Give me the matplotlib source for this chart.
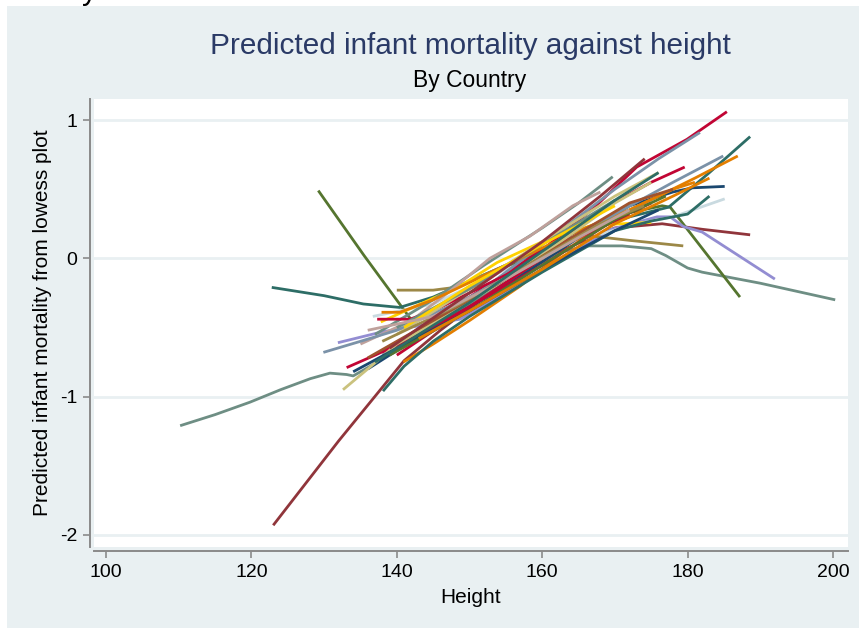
import matplotlib
matplotlib.use("Agg")
import matplotlib.pyplot as plt
from matplotlib.patches import Rectangle

# ---------------- data (height, predicted mortality) ----------------
# Stata s2color palette
navy = "#1A476F"; maroon = "#90353B"; forest = "#55752F"; dkorange = "#E37E00"
teal = "#6E8E84"; cranberry = "#C10534"; lavender = "#938DD2"; khaki = "#CAC27E"
sienna = "#A0522D"; emidblue = "#7B92A8"; emerald = "#2D6D66"; brown = "#9C8847"
erose = "#BFA19C"; gold = "#FFD200"; bluishgray = "#C9DAE0"

country_01 = [(110.2, -1.21), (115, -1.13), (119.8, -1.04), (124, -0.95), (128.1, -0.87),
              (130.8, -0.83), (133.1, -0.84), (134, -0.85), (137, -0.76), (140, -0.64),
              (150, -0.33), (158, -0.08), (163, 0.05), (166, 0.09), (171, 0.09), (175, 0.07),
              (177, 0.02), (180, -0.07), (182, -0.10), (190, -0.18), (200.3, -0.30)]
country_02 = [(123, -1.93), (132, -1.32), (141, -0.74), (146, -0.52), (150, -0.36),
              (160, 0.0), (170, 0.22), (176.5, 0.25), (182, 0.21), (188.6, 0.17)]
country_03 = [(129.2, 0.49), (135.5, 0.02), (142.2, -0.46), (146, -0.34), (155, -0.07),
              (165, 0.2), (172, 0.33), (176.5, 0.38), (177.6, 0.37), (187.2, -0.28)]
country_04 = [(122.8, -0.21), (130, -0.27), (135.4, -0.33), (140.4, -0.355), (145, -0.28),
              (155, -0.05), (165, 0.17), (172, 0.3), (177.4, 0.37), (183, 0.62), (188.6, 0.88)]
country_05 = [(131.9, -0.61), (138.1, -0.53), (144, -0.48), (148.7, -0.44), (156, -0.22),
              (163, 0.0), (169.5, 0.21), (175.8, 0.30), (177.6, 0.30), (179.4, 0.23),
              (182, 0.19), (192, -0.15)]
country_06 = [(136.7, -0.42), (145, -0.33), (155, -0.08), (165, 0.13), (173, 0.25),
              (178, 0.30), (185.1, 0.43)]
country_07 = [(136, -0.8), (145, -0.5), (155, -0.2), (165, 0.15), (172, 0.38), (178, 0.48),
              (180.7, 0.51), (185.1, 0.52)]
country_08 = [(140, -0.23), (145, -0.23), (148, -0.21), (152, -0.12), (158, 0.02),
              (163, 0.12), (167, 0.16), (172, 0.13), (179.4, 0.09)]
country_09 = [(137.8, -0.46), (142, -0.36), (148.7, -0.2), (153.8, -0.03), (160, 0.12),
              (167, 0.24), (175, 0.26)]
country_10 = [(138, -0.68), (150, -0.28), (160, 0.06), (167, 0.36), (173, 0.66),
              (179.9, 0.86), (185.4, 1.06)]
country_11 = [(138, -0.7), (150, -0.3), (160, 0.1), (170, 0.5), (176, 0.72), (181.7, 0.91)]
country_12 = [(137, -0.55), (145, -0.3), (152, -0.05), (160, 0.22), (165, 0.4), (169.7, 0.59)]
country_13 = [(135, -0.62), (142, -0.45), (147, -0.25), (152.8, 0.0), (158.3, 0.16),
              (164.2, 0.38), (168, 0.48)]
country_14 = [(140.9, -0.75), (145, -0.62), (150, -0.45), (157, -0.2), (163, 0.05),
              (170, 0.3), (176, 0.45), (181, 0.58), (186.9, 0.74)]
country_15 = [(137.9, -0.39), (140.4, -0.39), (145, -0.3), (155, -0.05), (165, 0.2),
              (172, 0.35), (178, 0.5), (181, 0.55)]
country_16 = [(137.3, -0.44), (141.8, -0.44), (145, -0.38), (155, -0.12), (165, 0.15),
              (172, 0.32)]
country_17 = [(133.1, -0.79), (137, -0.7), (142, -0.58), (150, -0.35), (160, -0.05),
              (170, 0.28), (175, 0.4)]
country_18 = [(140, -0.7), (150, -0.35), (160, 0.0), (168, 0.35), (175, 0.55), (179.6, 0.66)]
country_19 = [(132.6, -0.95), (136, -0.8), (140, -0.62), (148, -0.38), (155, -0.15),
              (162, 0.1), (170, 0.4), (175, 0.55)]
country_20 = [(138.1, -0.96), (141, -0.78), (145, -0.6), (150, -0.42), (160, -0.1),
              (170, 0.2), (175, 0.27), (180, 0.32), (183, 0.45)]
country_21 = [(129.9, -0.68), (135, -0.6), (140, -0.52), (150, -0.28), (160, 0.0),
              (170, 0.32), (178, 0.55), (184.9, 0.74)]
country_22 = [(140, -0.55), (150, -0.22), (160, 0.12), (170, 0.45), (176, 0.62)]
country_23 = [(136, -0.72), (145, -0.45), (155, -0.15), (165, 0.18), (172, 0.4), (178, 0.5)]
country_24 = [(134, -0.82), (140, -0.65), (150, -0.38), (160, -0.08), (170, 0.2), (176, 0.35)]
country_25 = [(139, -0.7), (150, -0.38), (160, -0.05), (170, 0.28), (177, 0.45)]
country_26 = [(140, -0.5), (150, -0.22), (160, 0.1), (170, 0.42)]
country_27 = [(141, -0.5), (150, -0.2), (160, 0.1), (170, 0.38)]
country_28 = [(138, -0.6), (148, -0.35), (158, -0.05), (168, 0.25), (174, 0.38)]
country_29 = [(136, -0.52), (145, -0.42), (155, -0.15), (165, 0.15), (172, 0.35)]
country_30 = [(137, -0.75), (150, -0.32), (160, 0.05), (170, 0.42), (176, 0.62)]
country_31 = [(139, -0.65), (150, -0.25), (160, 0.12), (168, 0.45), (174.1, 0.72)]
country_32 = [(143, -0.58), (150, -0.38), (160, -0.08), (170, 0.25), (178, 0.45), (183, 0.58)]

series = [
    (country_01, teal), (country_02, maroon), (country_03, forest), (country_04, emerald),
    (country_05, lavender), (country_06, bluishgray), (country_07, navy), (country_08, brown),
    (country_09, gold), (country_10, cranberry), (country_11, emidblue), (country_12, teal),
    (country_13, erose), (country_14, dkorange), (country_15, dkorange), (country_16, cranberry),
    (country_17, cranberry), (country_18, cranberry), (country_19, khaki), (country_20, emerald),
    (country_21, emidblue), (country_22, khaki), (country_23, sienna), (country_24, navy),
    (country_25, forest), (country_26, teal), (country_27, gold), (country_28, brown),
    (country_29, erose), (country_30, emerald), (country_31, maroon), (country_32, dkorange),
]

x_ticks = [100, 120, 140, 160, 180, 200]
y_ticks = [-2, -1, 0, 1]

title = "Predicted infant mortality against height"
subtitle = "By Country"
x_label = "Height"
y_label = "Predicted infant mortality from lowess plot"

# ---------------- styling ----------------
plt.rcParams["font.family"] = ["Liberation Sans", "DejaVu Sans"]

W, H = 859, 631
fig = plt.figure(figsize=(W / 100, H / 100), dpi=100, facecolor="white")
bg = "#E9F0F2"
fig.patches.append(Rectangle((7 / W, 1 - 628 / H), (W - 7) / W, (628 - 6) / H,
                             transform=fig.transFigure, facecolor=bg, edgecolor="none",
                             zorder=-10))

# cropped descender of a caption above the figure
fig.text(90 / W, 1 + 1 / H, "y", fontsize=22, color="black", ha="center", va="baseline")

ax = fig.add_axes([94 / W, 1 - 547 / H, (848 - 94) / W, (547 - 99) / H])
ax.set_zorder(1)
ax.set_facecolor("white")
ax.set_xlim(98.35, 202.06)
ax.set_ylim(-2.087, 1.152)

for pts, col in series:
    xs = [p[0] for p in pts]
    ys = [p[1] for p in pts]
    ax.plot(xs, ys, color=col, lw=2.0, solid_capstyle="butt", solid_joinstyle="round",
            zorder=3)

ax.set_xticks(x_ticks)
ax.set_yticks(y_ticks)
ax.set_yticklabels([str(v) for v in y_ticks], rotation=90, va="center")
for yv in y_ticks:
    ax.axhline(yv, color=bg, lw=2.0, zorder=1)

for s in ["top", "right"]:
    ax.spines[s].set_visible(False)
for s in ["left", "bottom"]:
    ax.spines[s].set_position(("outward", 3))
    ax.spines[s].set_color("#8A8A8A")
    ax.spines[s].set_linewidth(1.4)
ax.tick_params(axis="both", direction="out", length=5, width=1.2, color="#8A8A8A",
               labelsize=14, labelcolor="black", pad=4)

ax.set_xlabel(x_label, fontsize=15, labelpad=5)
ax.set_ylabel(y_label, fontsize=15, labelpad=6)

fig.text(470 / W, 1 - 46 / H, title, fontsize=21.4, color="#2A3A66", ha="center", va="center")
fig.text(470 / W, 1 - 81 / H, subtitle, fontsize=16.5, color="black", ha="center", va="center")

fig.savefig("out.png", dpi=100, facecolor="white")
